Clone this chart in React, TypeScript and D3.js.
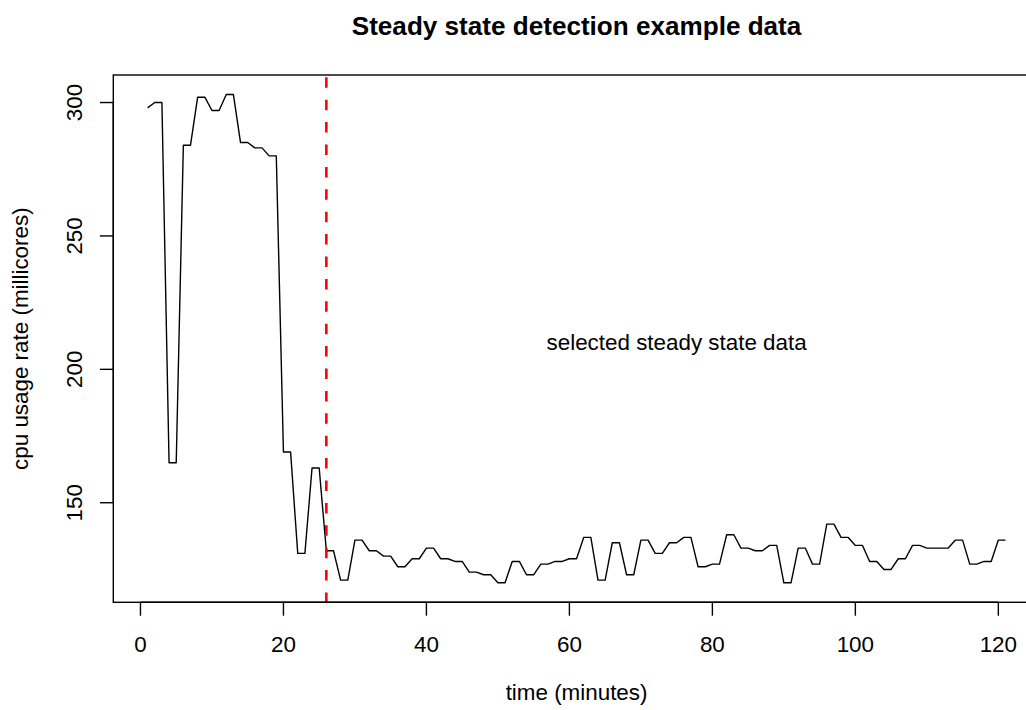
import React from "react";
import * as d3 from "d3";

const cpuUsage: number[] = [
  298, 300, 300, 165, 165, 284, 284, 302, 302, 297,
  297, 303, 303, 285, 285, 283, 283, 280, 280, 169,
  169, 131, 131, 163, 163, 132, 132, 121, 121, 136,
  136, 132, 132, 130, 130, 126, 126, 129, 129, 133,
  133, 129, 129, 128, 128, 124, 124, 123, 123, 120,
  120, 128, 128, 123, 123, 127, 127, 128, 128, 129,
  129, 137, 137, 121, 121, 135, 135, 123, 123, 136,
  136, 131, 131, 135, 135, 137, 137, 126, 126, 127,
  127, 138, 138, 133, 133, 132, 132, 134, 134, 120,
  120, 133, 133, 127, 127, 142, 142, 137, 137, 134,
  134, 128, 128, 125, 125, 129, 129, 134, 134, 133,
  133, 133, 133, 136, 136, 127, 127, 128, 128, 136, 136,
];
const timeMinutes: number[] = cpuUsage.map((_, i) => i + 1);
const xTicks: number[] = [0, 20, 40, 60, 80, 100, 120];
const yTicks: number[] = [150, 200, 250, 300];
const steadyStart = 26;
const annotation = { x: 75, y: 210, text: "selected steady state data" };
const title = "Steady state detection example data";
const xLabel = "time (minutes)";
const yLabel = "cpu usage rate (millicores)";

const W = 1026;
const H = 710;
const plot = { left: 113.3, right: 1039.8, top: 75, bottom: 602.3 };
const FONT = "'Liberation Sans', Arial, Helvetica, sans-serif";
const FS = 22.4;

function pad(ext: [number, number]): [number, number] {
  const r = ext[1] - ext[0];
  return [ext[0] - 0.04 * r, ext[1] + 0.04 * r];
}

export default function App() {
  const x = d3
    .scaleLinear()
    .domain(pad(d3.extent(timeMinutes) as [number, number]))
    .range([plot.left, plot.right]);
  const y = d3
    .scaleLinear()
    .domain(pad(d3.extent(cpuUsage) as [number, number]))
    .range([plot.bottom, plot.top]);

  const line = d3
    .line<number>()
    .x((_, i) => x(timeMinutes[i]))
    .y((d) => y(d));

  const cx = (plot.left + plot.right) / 2;
  const cy = (plot.top + plot.bottom) / 2;

  return (
    <svg
      width={W}
      height={H}
      style={{ position: "absolute", left: 0, top: 0, background: "#fff" }}
      fontFamily={FONT}
    >
      <rect x={0} y={0} width={W} height={H} fill="#fff" />
      <defs>
        <clipPath id="plotclip">
          <rect
            x={plot.left}
            y={plot.top}
            width={plot.right - plot.left}
            height={plot.bottom - plot.top}
          />
        </clipPath>
      </defs>
      <text
        x={cx}
        y={35}
        textAnchor="middle"
        fontWeight="bold"
        fontSize={26.1}
        fill="#000"
      >
        {title}
      </text>
      <g clipPath="url(#plotclip)">
        <path
          d={line(cpuUsage) || ""}
          fill="none"
          stroke="#000"
          strokeWidth={1.4}
          strokeLinejoin="round"
        />
        <line
          x1={x(steadyStart)}
          x2={x(steadyStart)}
          y1={plot.top}
          y2={plot.bottom}
          stroke="#ff0000"
          strokeWidth={2.6}
          strokeDasharray="10.5 11.9"
          strokeDashoffset={20.1}
        />
      </g>
      <rect
        x={plot.left}
        y={plot.top}
        width={plot.right - plot.left}
        height={plot.bottom - plot.top}
        fill="none"
        stroke="#000"
        strokeWidth={1.4}
      />
      {/* x axis */}
      <line
        x1={x(xTicks[0])}
        x2={x(xTicks[xTicks.length - 1])}
        y1={plot.bottom}
        y2={plot.bottom}
        stroke="#000"
        strokeWidth={1.4}
      />
      {xTicks.map((t) => (
        <g key={"xt" + t}>
          <line
            x1={x(t)}
            x2={x(t)}
            y1={plot.bottom}
            y2={plot.bottom + 13.4}
            stroke="#000"
            strokeWidth={1.4}
          />
          <text
            x={x(t)}
            y={652}
            textAnchor="middle"
            fontSize={FS}
            fill="#000"
          >
            {t}
          </text>
        </g>
      ))}
      {/* y axis */}
      <line
        x1={plot.left}
        x2={plot.left}
        y1={y(yTicks[0])}
        y2={y(yTicks[yTicks.length - 1])}
        stroke="#000"
        strokeWidth={1.4}
      />
      {yTicks.map((t) => (
        <g key={"yt" + t}>
          <line
            x1={plot.left}
            x2={plot.left - 13.4}
            y1={y(t)}
            y2={y(t)}
            stroke="#000"
            strokeWidth={1.4}
          />
          <text
            transform={`translate(81.5, ${y(t)}) rotate(-90)`}
            textAnchor="middle"
            fontSize={FS}
            fill="#000"
          >
            {t}
          </text>
        </g>
      ))}
      <text
        x={cx}
        y={700}
        textAnchor="middle"
        fontSize={FS}
        fill="#000"
      >
        {xLabel}
      </text>
      <text
        transform={`translate(28, ${cy}) rotate(-90)`}
        textAnchor="middle"
        fontSize={FS}
        fill="#000"
      >
        {yLabel}
      </text>
      <text
        x={x(annotation.x)}
        y={y(annotation.y)}
        dy="0.35em"
        textAnchor="middle"
        fontSize={FS}
        fill="#000"
      >
        {annotation.text}
      </text>
    </svg>
  );
}
